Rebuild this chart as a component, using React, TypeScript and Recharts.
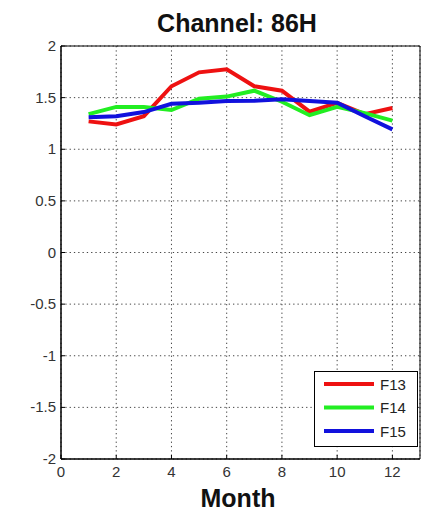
import React from "react";
import { LineChart, Line, XAxis, YAxis, CartesianGrid, ReferenceArea } from "recharts";

const months = [1, 2, 3, 4, 5, 6, 7, 8, 9, 10, 11, 12];
const f13 = [1.27, 1.24, 1.32, 1.61, 1.745, 1.775, 1.61, 1.567, 1.364, 1.45, 1.34, 1.4];
const f14 = [1.34, 1.41, 1.41, 1.38, 1.49, 1.51, 1.567, 1.46, 1.33, 1.41, 1.35, 1.277];
const f15 = [1.31, 1.32, 1.36, 1.44, 1.45, 1.467, 1.47, 1.484, 1.467, 1.45, 1.32, 1.193];
const xTicks = [0, 2, 4, 6, 8, 10, 12];
const yTicks = [-2, -1.5, -1, -0.5, 0, 0.5, 1, 1.5, 2];
const seriesNames = ["F13", "F14", "F15"];
const seriesColors = ["#ee1111", "#22ee22", "#1111dd"];

const data = months.map((m, i) => ({ month: m, F13: f13[i], F14: f14[i], F15: f15[i] }));

const FONT = "'Liberation Sans', Arial, sans-serif";

const XTick = (props: any) => {
  const { x, y, payload } = props;
  return (
    <g>
      <line x1={x} y1={y} x2={x} y2={y - 4} stroke="#000" />
      <text x={x} y={y + 18} textAnchor="middle" fontSize={15} fill="#333" fontFamily={FONT}>
        {payload.value}
      </text>
    </g>
  );
};

const YTick = (props: any) => {
  const { x, y, payload } = props;
  return (
    <g>
      <line x1={x} y1={y} x2={x + 4} y2={y} stroke="#000" />
      <text x={x - 5} y={y + 5} textAnchor="end" fontSize={15} fill="#333" fontFamily={FONT}>
        {payload.value}
      </text>
    </g>
  );
};

export default function App() {
  return (
    <div style={{ position: "absolute", left: 0, top: 0, width: 421, height: 512, background: "#fff" }}>
      <LineChart width={421} height={512} data={data} margin={{ top: 46, right: 1, bottom: 33, left: 21 }}>
        <CartesianGrid stroke="#444" strokeDasharray="1.3 3" />
        <XAxis
          dataKey="month"
          type="number"
          domain={[0, 13]}
          ticks={xTicks}
          height={20}
          tickSize={0}
          tickMargin={0}
          tickLine={false}
          axisLine={{ stroke: "#000" }}
          tick={<XTick />}
          interval={0}
        />
        <YAxis
          type="number"
          domain={[-2, 2]}
          ticks={yTicks}
          width={40}
          tickSize={0}
          tickMargin={0}
          tickLine={false}
          axisLine={{ stroke: "#000" }}
          tick={<YTick />}
          interval={0}
        />
        <ReferenceArea x1={0} x2={13} y1={-2} y2={2} fill="none" stroke="#000" strokeWidth={1} ifOverflow="visible" />
        {seriesNames.map((n, i) => (
          <Line
            key={n}
            dataKey={n}
            type="linear"
            stroke={seriesColors[i]}
            strokeWidth={4}
            dot={false}
            isAnimationActive={false}
          />
        ))}
      </LineChart>
      <svg
        width={421}
        height={512}
        style={{ position: "absolute", left: 0, top: 0, pointerEvents: "none" }}
      >
        <text x={237} y={32} textAnchor="middle" fontSize={25} fontWeight="bold" fontFamily={FONT} fill="#111">
          Channel: 86H
        </text>
        <text x={238} y={507} textAnchor="middle" fontSize={25} fontWeight="bold" fontFamily={FONT} fill="#111">
          Month
        </text>
        <rect x={314.5} y={371.5} width={103} height={75} fill="#fff" stroke="#000" />
        {seriesNames.map((n, i) => (
          <g key={n}>
            <line x1={324} x2={374} y1={384 + i * 23.5} y2={384 + i * 23.5} stroke={seriesColors[i]} strokeWidth={4} />
            <text x={380} y={389.5 + i * 23.5} fontSize={15} fontFamily={FONT} fill="#222">
              {n}
            </text>
          </g>
        ))}
      </svg>
    </div>
  );
}
